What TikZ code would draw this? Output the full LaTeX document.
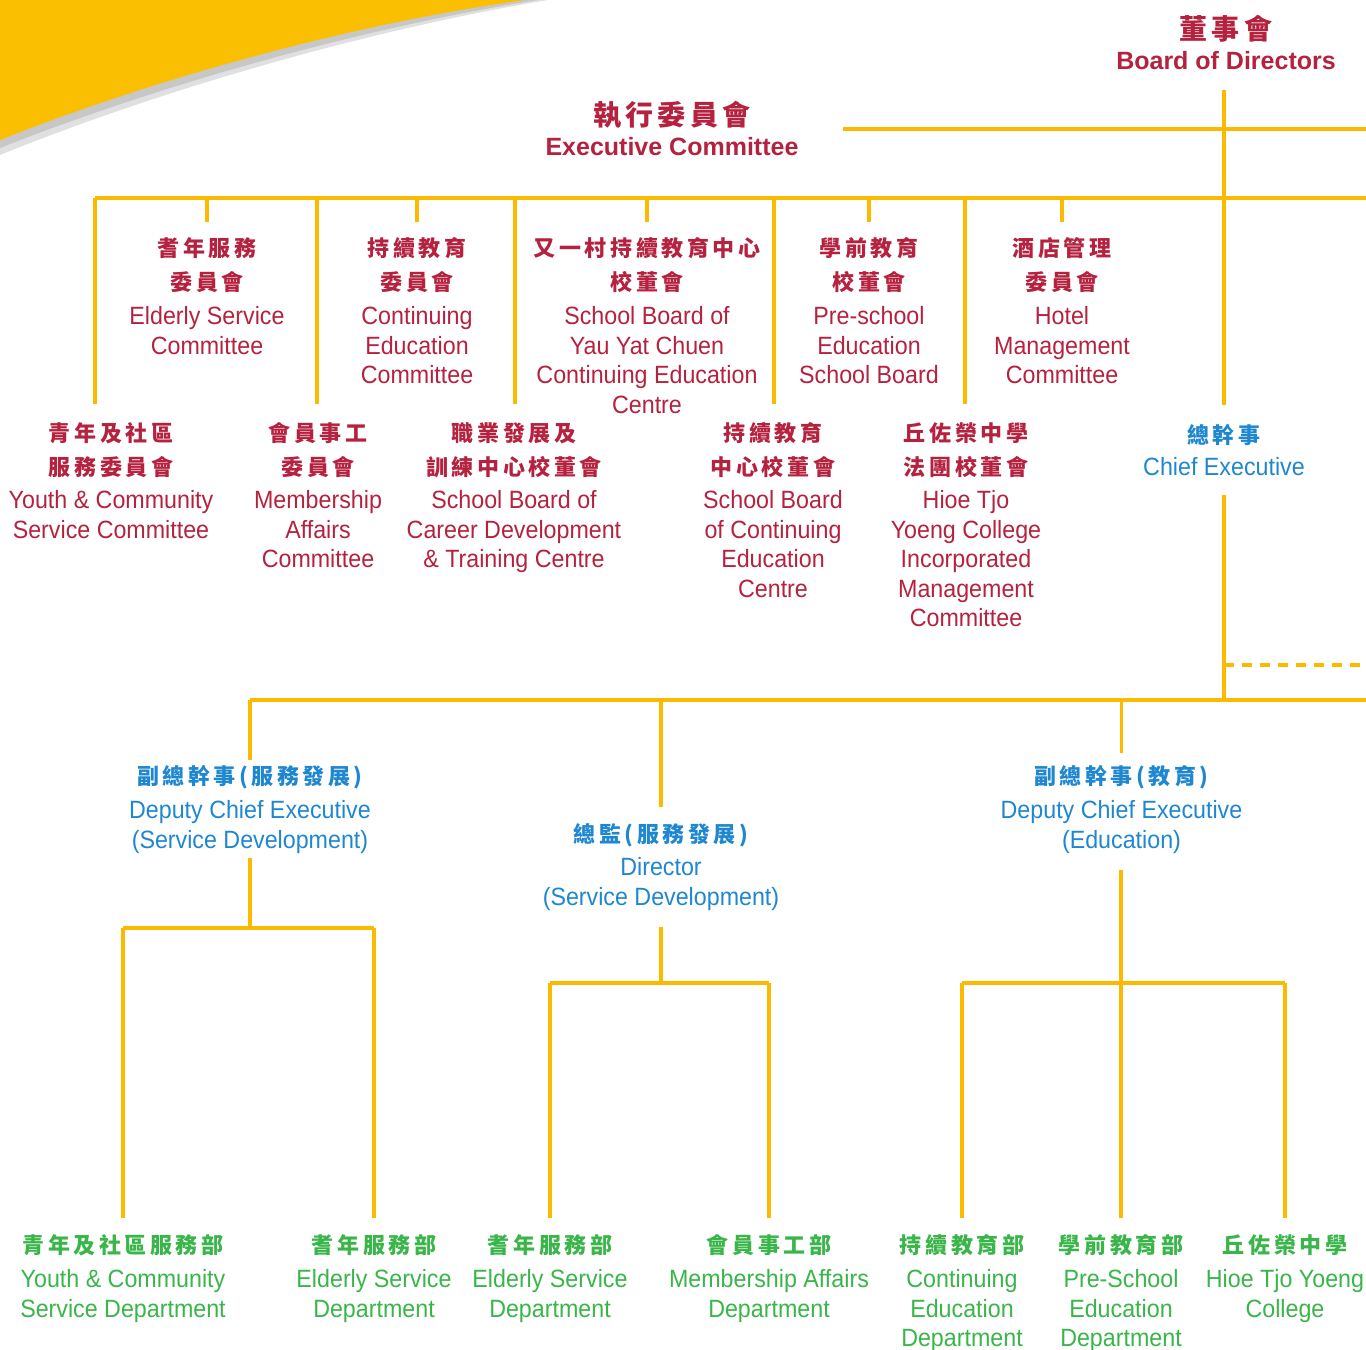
\documentclass[tikz,border=0pt]{standalone}
\usepackage{fontspec}
\newfontfamily\zhfont{Noto Sans CJK TC}[LetterSpace=16]
\newfontfamily\enfont{Liberation Sans}[FakeStretch=0.93]
\newfontfamily\enbfont{Liberation Sans}
\definecolor{ored}{HTML}{B5223F}
\definecolor{oblue}{HTML}{1F87CF}
\definecolor{ogreen}{HTML}{3AB54A}
\definecolor{oyellow}{HTML}{FBBA00}
\definecolor{swoosh}{HTML}{F9BF00}
\tikzset{
  ln/.style={draw=oyellow, line width=2.6pt},
  zh/.style={font=\zhfont\bfseries\fontsize{16.5pt}{25.9pt}\selectfont, text=#1, align=center, inner sep=0pt, anchor=north},
  en/.style={font=\enfont\fontsize{18.75pt}{22.1pt}\selectfont, text=#1, align=center, inner sep=0pt, anchor=north},
  ttlzh/.style={font=\zhfont\bfseries\fontsize{21pt}{24pt}\selectfont, text=ored, inner sep=0pt},
  ttlen/.style={font=\enbfont\bfseries\fontsize{18.75pt}{22pt}\selectfont, text=ored, inner sep=0pt}
}
\begin{document}
\begin{tikzpicture}[x=0.75pt,y=-0.75pt]
\useasboundingbox (0,0) rectangle (1366,1349);
% swoosh with soft shadow
\fill[black!12] (0,0) -- (548,0) .. controls (368,30) and (160,90) .. (0,155) -- cycle;
\fill[black!22] (0,0) -- (538,0) .. controls (360,28) and (156,86) .. (0,148) -- cycle;
\fill[swoosh] (0,0) -- (525,0) .. controls (350,24) and (150,80) .. (0,140) -- cycle;

% titles
\node[ttlzh] (bod-zh) at (1226,29) {董事會};
\node[ttlen] (bod-en) at (1226,61) {Board of Directors};
\node[ttlzh] (ec-zh) at (672,115) {執行委員會};
\node[ttlen] (ec-en) at (672,147) {Executive Committee};

% top row committees
\node[zh=ored] (esc-zh) at (207,237) {耆年服務\\委員會};
\node[en=ored] (esc-en) at (207,306.5) {Elderly Service\\Committee};
\node[zh=ored] (cec-zh) at (417,237) {持續教育\\委員會};
\node[en=ored] (cec-en) at (417,306.5) {Continuing\\Education\\Committee};
\node[zh=ored] (yyc-zh) at (647,237) {又一村持續教育中心\\校董會};
\node[en=ored] (yyc-en) at (647,306.5) {School Board of\\Yau Yat Chuen\\Continuing Education\\Centre};
\node[zh=ored] (pse-zh) at (869,237) {學前教育\\校董會};
\node[en=ored] (pse-en) at (869,306.5) {Pre-school\\Education\\School Board};
\node[zh=ored] (hmc-zh) at (1062,237) {酒店管理\\委員會};
\node[en=ored] (hmc-en) at (1062,306.5) {Hotel\\Management\\Committee};

% lower row committees
\node[zh=ored] (ycs-zh) at (111,422) {青年及社區\\服務委員會};
\node[en=ored] (ycs-en) at (111,490.5) {Youth \& Community\\Service Committee};
\node[zh=ored] (mac-zh) at (318,422) {會員事工\\委員會};
\node[en=ored] (mac-en) at (318,490.5) {Membership\\Affairs\\Committee};
\node[zh=ored] (cdt-zh) at (514,422) {職業發展及\\訓練中心校董會};
\node[en=ored] (cdt-en) at (514,490.5) {School Board of\\Career Development\\\& Training Centre};
\node[zh=ored] (cecb-zh) at (773,422) {持續教育\\中心校董會};
\node[en=ored] (cecb-en) at (773,490.5) {School Board\\of Continuing\\Education\\Centre};
\node[zh=ored] (htc-zh) at (966,422) {丘佐榮中學\\法團校董會};
\node[en=ored] (htc-en) at (966,490.5) {Hioe Tjo\\Yoeng College\\Incorporated\\Management\\Committee};

% chief executive
\node[zh=oblue] (ce-zh) at (1224,424) {總幹事};
\node[en=oblue] (ce-en) at (1224,457.5) {Chief Executive};

% second level
\node[zh=oblue] (dsd-zh) at (250,765) {副總幹事(服務發展)};
\node[en=oblue] (dsd-en) at (250,800.5) {Deputy Chief Executive\\(Service Development)};
\node[zh=oblue] (dir-zh) at (661,823) {總監(服務發展)};
\node[en=oblue] (dir-en) at (661,857.5) {Director\\(Service Development)};
\node[zh=oblue] (ded-zh) at (1121.5,765) {副總幹事(教育)};
\node[en=oblue] (ded-en) at (1121.5,800.5) {Deputy Chief Executive\\(Education)};

% departments
\node[zh=ogreen] (ycd-zh) at (123,1234) {青年及社區服務部};
\node[en=ogreen] (ycd-en) at (123,1269.5) {Youth \& Community\\Service Department};
\node[zh=ogreen] (esd1-zh) at (374,1234) {耆年服務部};
\node[en=ogreen] (esd1-en) at (374,1269.5) {Elderly Service\\Department};
\node[zh=ogreen] (esd2-zh) at (550,1234) {耆年服務部};
\node[en=ogreen] (esd2-en) at (550,1269.5) {Elderly Service\\Department};
\node[zh=ogreen] (mad-zh) at (769,1234) {會員事工部};
\node[en=ogreen] (mad-en) at (769,1269.5) {Membership Affairs\\Department};
\node[zh=ogreen] (ced-zh) at (962,1234) {持續教育部};
\node[en=ogreen] (ced-en) at (962,1269.5) {Continuing\\Education\\Department};
\node[zh=ogreen] (psd-zh) at (1121,1234) {學前教育部};
\node[en=ogreen] (psd-en) at (1121,1269.5) {Pre-School\\Education\\Department};
\node[zh=ogreen] (htd-zh) at (1285,1234) {丘佐榮中學};
\node[en=ogreen] (htd-en) at (1285,1269.5) {Hioe Tjo Yoeng\\College};

% junction coordinates
\coordinate (bod-top) at (1224,90);
\coordinate (ec-link) at (843,129);
\coordinate (edge129) at (1366,129);
\coordinate (bus1-l) at (95,198);
\coordinate (bus1-r) at (1366,198);
\coordinate (ce-foot) at (1224,700);
\coordinate (dash-r) at (1366,665);
\coordinate (dash-l) at (1224,665);
\coordinate (bus2-l) at (250,700);
\coordinate (bus2-r) at (1366,700);
\coordinate (bus3-l) at (123,928);
\coordinate (bus3-r) at (374,928);
\coordinate (bus4-l) at (550,983);
\coordinate (bus4-r) at (769,983);
\coordinate (bus5-l) at (962,983);
\coordinate (bus5-r) at (1285,983);

% connectors, upper part
\draw[ln, shorten >=14pt] (bod-top) -- (ce-zh.north);
\draw[ln] (ec-link) -- (edge129);
\draw[ln] (bus1-l) -- (bus1-r);
\draw[ln, shorten >=11.25pt] (esc-zh.north |- bus1-l) -- (esc-zh.north);
\draw[ln, shorten >=11.25pt] (cec-zh.north |- bus1-l) -- (cec-zh.north);
\draw[ln, shorten >=11.25pt] (yyc-zh.north |- bus1-l) -- (yyc-zh.north);
\draw[ln, shorten >=11.25pt] (pse-zh.north |- bus1-l) -- (pse-zh.north);
\draw[ln, shorten >=11.25pt] (hmc-zh.north |- bus1-l) -- (hmc-zh.north);
\draw[ln, shorten >=13.5pt] (bus1-l) -- (bus1-l |- ycs-zh.north);
\draw[ln, shorten >=13.5pt] (317,198) -- (mac-zh.north -| 317,0);
\draw[ln, shorten >=13.5pt] (515,198) -- (cdt-zh.north -| 515,0);
\draw[ln, shorten >=13.5pt] (774,198) -- (cecb-zh.north -| 774,0);
\draw[ln, shorten >=13.5pt] (965,198) -- (htc-zh.north -| 965,0);

% chief executive down
\draw[ln, shorten <=14pt] (ce-en.south) -- (ce-foot);
\draw[ln, dash pattern=on 7.5pt off 6pt] (dash-l) -- (dash-r);
\draw[ln] (bus2-l) -- (bus2-r);
\draw[ln, shorten >=3.75pt] (bus2-l) -- (dsd-zh.north);
\draw[ln, shorten >=12pt] (dir-zh.north |- bus2-l) -- (dir-zh.north);
\draw[ln, shorten >=9pt] (ded-zh.north |- bus2-l) -- (ded-zh.north);

% service development
\draw[ln, shorten <=3pt] (dsd-en.south) -- (dsd-en.south |- bus3-l);
\draw[ln] (bus3-l) -- (bus3-r);
\draw[ln, shorten >=12pt] (bus3-l) -- (ycd-zh.north);
\draw[ln, shorten >=12pt] (bus3-r) -- (esd1-zh.north);

% director
\draw[ln, shorten <=12pt] (dir-en.south) -- (dir-en.south |- bus4-l);
\draw[ln] (bus4-l) -- (bus4-r);
\draw[ln, shorten >=12pt] (bus4-l) -- (esd2-zh.north);
\draw[ln, shorten >=12pt] (bus4-r) -- (mad-zh.north);

% education
\draw[ln, shorten <=12pt, shorten >=12pt] (ded-en.south -| psd-zh.north) -- (psd-zh.north);
\draw[ln] (bus5-l) -- (bus5-r);
\draw[ln, shorten >=12pt] (bus5-l) -- (ced-zh.north);
\draw[ln, shorten >=12pt] (bus5-r) -- (htd-zh.north);
\end{tikzpicture}
\end{document}
